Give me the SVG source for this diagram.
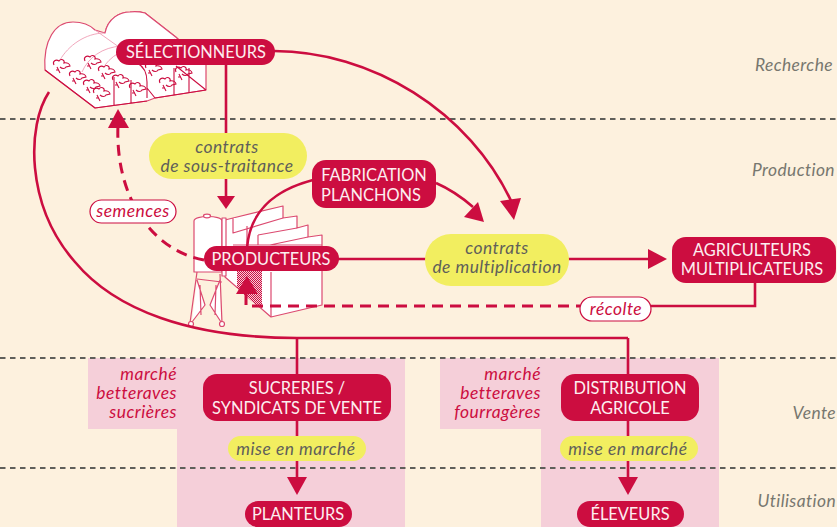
<svg xmlns="http://www.w3.org/2000/svg" width="837" height="527" viewBox="0 0 837 527">
<style>
.n{fill:#cc0d40}
.w{font:16.4px "Lato","Noto Sans",sans-serif;fill:#fdeef0;text-anchor:middle}
.y{fill:#f2ee60}
.g{font:italic 17.4px "Lato","Noto Sans",sans-serif;letter-spacing:.5px;fill:#5f5f5a;text-anchor:middle}
.r{font:italic 17.4px "Lato","Noto Sans",sans-serif;letter-spacing:.5px;fill:#cc0d40;text-anchor:end}
.s{font:italic 17.4px "Lato","Noto Sans",sans-serif;letter-spacing:.4px;fill:#77776f;text-anchor:end}
.c{fill:none;stroke:#cc0d40;stroke-width:2.6}
.d{stroke-dasharray:11 7;stroke-width:3}
.h{fill:#cc0d40}
.dl{stroke:#5f5f5a;stroke-width:2;stroke-dasharray:5.5 4.5}
.i{fill:#fff;stroke:#dc4a70;stroke-width:1.2;stroke-linejoin:round}
.a{fill:none;stroke:#ef9db4;stroke-width:.9}
.b{fill:none;stroke:#cc0d40;stroke-width:1.1}
</style>
<defs>
<pattern id="hatch" width="2" height="2" patternUnits="userSpaceOnUse"><rect width="2" height="2" fill="#f5cfd9"/><rect width="1" height="1" fill="#cc0d40"/><rect x="1" y="1" width="1" height="1" fill="#cc0d40"/></pattern>
<g id="leaf"><path class="b" d="M0 0c-2-4 2-6 5-4c2-3 6-1 5 2c3-1 6 1 6 3l-4 1c-1 2-4 2-6 0M3 2l3 6M5 5h-3"/></g>
</defs>
<rect width="837" height="527" fill="#fdf1de"/>
<g id="bands">
<path d="M88 358H405V527H177V429H88Z" fill="#f5cfd9"/>
<path d="M440 358H719V527H541V429H440Z" fill="#f5cfd9"/>
</g>
<g id="separators">
<path class="dl" d="M0 119H837M0 358H837M0 468H837"/>
</g>
<g id="illustration-greenhouses">
<path class="i" d="M105 33C108 18 120 12 130 12C136 11 141 12 145 13L177 38L206 63V90L155 98L147 101L95 108L45 70C43 40 55 22 73 22C84 22 90 25 95 30L105 33Z"/>
<path class="a" d="M60 60C68 46 85 33 105 33M82 72C88 58 102 47 122 46M105 65C115 52 130 46 150 46M128 32C145 25 160 30 175 38M150 42C165 38 190 45 206 63M95 30L140 62"/>
<path class="b" d="M45 70L95 108L147 101M147 98V82C147 72 143 66 137 63M114 105V77M131 103V80M155 98L147 88M206 90L155 98M174 95V68M189 93V68M206 90L176 66"/>
<path class="i" d="M105 33C108 18 120 12 130 12C136 11 141 12 145 13L177 38" fill="none"/>
<use href="#leaf" x="54" y="65"/><use href="#leaf" x="70" y="76"/><use href="#leaf" x="84" y="85"/><use href="#leaf" x="94" y="93"/>
<use href="#leaf" x="85" y="61"/><use href="#leaf" x="99" y="71"/><use href="#leaf" x="113" y="80"/><use href="#leaf" x="130" y="88"/>
<use href="#leaf" x="146" y="68"/><use href="#leaf" x="160" y="83"/><use href="#leaf" x="176" y="72"/>
</g>
<g id="illustration-silo-greenhouse">
<path class="i" d="M225 220L233 218L283 206V218L297 216V228L308 225V237L322 235V305L271 317L225 277Z"/>
<path class="i" d="M233 218V233L283 218M247 226V245M258 235V245M297 228L258 235M308 237L270 245M271 272V317M233 245H322"/>
<path d="M237 270H262V308L255 304L237 288Z" fill="url(#hatch)"/>
<path class="i" d="M194 221C194 215 222 215 222 221V272H194Z"/>
<path class="i" d="M197 272L190 323M220 274L222 323M197 279L222 282M197 280L205 305L192 322M220 280L210 305L221 322M200 285L201 315M216 285L215 315"/>
<circle class="i" cx="191" cy="324" r="2.5"/><circle class="i" cx="222" cy="324" r="2.5"/>
<path class="i" d="M222 218H226V276H222Z"/>
<ellipse class="i" cx="207" cy="216" rx="3.5" ry="1.8"/>
</g>
<g id="connectors">
<path class="c" d="M274 51C370 51 470 110 513 205"/>
<path class="c" d="M226 62V197"/>
<path class="c" d="M49 92C27 125 25 205 75 262C115 310 190 338 297 338H628"/>
<path class="c" d="M297 338V376M628 338V376"/>
<path class="c" d="M247 248C250 210 275 190 313 180"/>
<path class="c" d="M436 183C452 190 465 200 473 207"/>
<path class="c" d="M338 259H650"/>
<path class="c d" d="M204 260C150 250 115 195 118 125"/>
<path class="c d" d="M246 294V306H580"/>
<path class="c" d="M650 306H755V282"/>
<path class="c" d="M297 420V478M628 420V478"/>
<path class="h" d="M226 209L217 196H235Z"/>
<path class="h" d="M514 220L500 201L521 198Z"/>
<path class="h" d="M484 222L464 217L478 202Z"/>
<path class="h" d="M667 259L648 249V269Z"/>
<path class="h" d="M118 109L108 128H129Z"/>
<path class="h" d="M247 276L236 294H258Z"/>
<path class="h" d="M297 495L287 477H307Z"/>
<path class="h" d="M628 495L618 477H638Z"/>
</g>
<g id="label-contrats-soustraitance"><rect class="y" x="149" y="133" width="158" height="46" rx="23"/><text class="g" x="227" y="153">contrats</text><text class="g" x="227" y="172">de sous-traitance</text></g>
<g id="label-contrats-multiplication"><rect class="y" x="425" y="234" width="144" height="52" rx="26"/><text class="g" x="497" y="254">contrats</text><text class="g" x="497" y="273">de multiplication</text></g>
<g id="label-semences"><rect x="90" y="200" width="86" height="23" rx="11.5" fill="#fff" stroke="#cc0d40" stroke-width="1.2"/><text class="g" x="133" y="217" style="fill:#cc0d40">semences</text></g>
<g id="label-recolte"><rect x="580" y="297" width="71" height="24" rx="12" fill="#fff" stroke="#cc0d40" stroke-width="1.2"/><text class="g" x="616" y="315" style="fill:#cc0d40">récolte</text></g>
<g id="node-selectionneurs"><rect class="n" x="116" y="39" width="159" height="26" rx="13"/><text class="w" x="196" y="58">SÉLECTIONNEURS</text></g>
<g id="node-fabrication"><rect class="n" x="312" y="160" width="124" height="48" rx="14"/><text class="w" x="374" y="181">FABRICATION</text><text class="w" x="371" y="201">PLANCHONS</text></g>
<g id="node-producteurs"><rect class="n" x="204" y="246" width="135" height="25" rx="12.5"/><text class="w" x="271" y="265">PRODUCTEURS</text></g>
<g id="node-agriculteurs"><rect class="n" x="672" y="237" width="164" height="46" rx="14"/><text class="w" x="752" y="256">AGRICULTEURS</text><text class="w" x="752" y="275">MULTIPLICATEURS</text></g>
<g id="node-sucreries"><rect class="n" x="203" y="374" width="188" height="47" rx="14"/><text class="w" x="297" y="394">SUCRERIES /</text><text class="w" x="297" y="414">SYNDICATS DE VENTE</text></g>
<g id="node-distribution"><rect class="n" x="561" y="374" width="138" height="47" rx="14"/><text class="w" x="630" y="394">DISTRIBUTION</text><text class="w" x="630" y="414">AGRICOLE</text></g>
<g id="node-planteurs"><rect class="n" x="245" y="501" width="107" height="26" rx="13"/><text class="w" x="298" y="520">PLANTEURS</text></g>
<g id="node-eleveurs"><rect class="n" x="577" y="501" width="107" height="26" rx="13"/><text class="w" x="630" y="520">ÉLEVEURS</text></g>
<g id="label-mise1"><rect class="y" x="228" y="436" width="138" height="25" rx="12.5"/><text class="g" x="296" y="455">mise en marché</text></g>
<g id="label-mise2"><rect class="y" x="560" y="436" width="138" height="25" rx="12.5"/><text class="g" x="628" y="455">mise en marché</text></g>
<g id="markets">
<text class="r" x="177" y="380">marché</text><text class="r" x="177" y="399">betteraves</text><text class="r" x="177" y="418">sucrières</text>
<text class="r" x="541" y="380">marché</text><text class="r" x="541" y="399">betteraves</text><text class="r" x="541" y="418">fourragères</text>
</g>
<g id="stages">
<text class="s" x="833" y="71">Recherche</text>
<text class="s" x="835" y="176">Production</text>
<text class="s" x="836" y="419">Vente</text>
<text class="s" x="836" y="507">Utilisation</text>
</g>
</svg>
